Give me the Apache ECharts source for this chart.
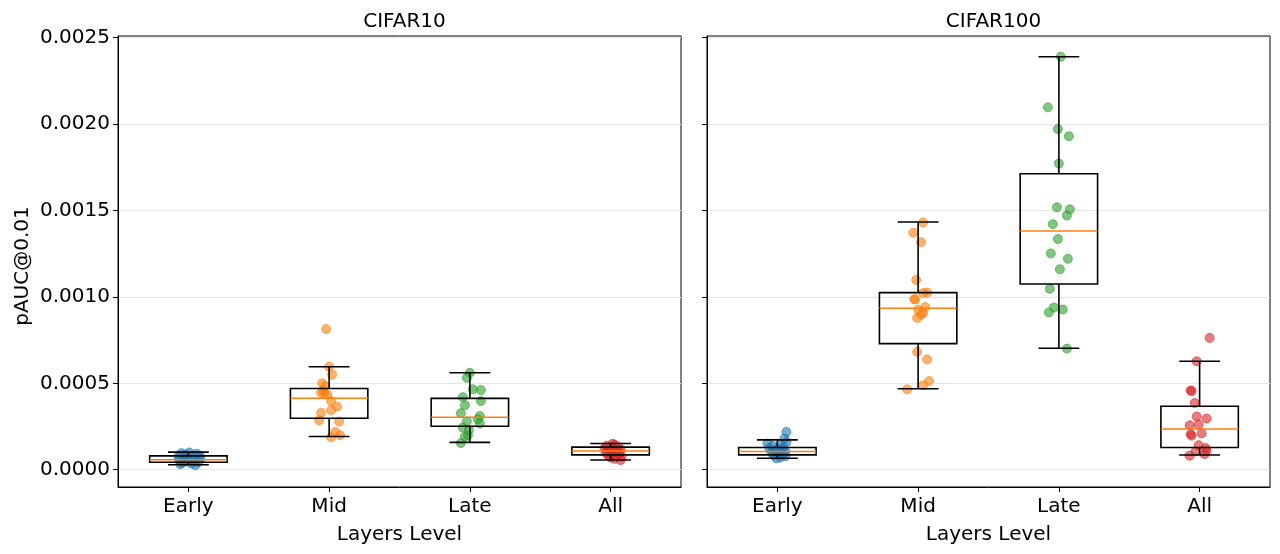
<!DOCTYPE html>
<html>
<head>
<meta charset="utf-8">
<script src="https://cdn.jsdelivr.net/npm/echarts@6/dist/echarts.min.js"></script>
<style>
html,body{margin:0;padding:0;background:#fff;}
#chart{width:1280px;height:554px;}
</style>
</head>
<body>
<div id="chart"></div>
<script>
// ---------- data ----------
const categories = ['Early', 'Mid', 'Late', 'All'];
const panelTitles = ['CIFAR10', 'CIFAR100'];
const yAxisTitle = 'pAUC@0.01';
const xAxisTitle = 'Layers Level';
const yTicks = [0, 0.0005, 0.0010, 0.0015, 0.0020, 0.0025];
const colors = ['#1f77b4', '#ff7f0e', '#2ca02c', '#d62728'];

// box stats per category: [whiskerLow, Q1, median, Q3, whiskerHigh]
const cifar10Stats = [
  [0.000029, 0.000043, 0.000058, 0.000080, 0.000102],
  [0.000192, 0.000298, 0.000413, 0.000470, 0.000596],
  [0.000158, 0.000252, 0.000304, 0.000413, 0.000561],
  [0.000056, 0.000086, 0.000109, 0.000131, 0.000152]
];
const cifar100Stats = [
  [0.000066, 0.000086, 0.000106, 0.000129, 0.000173],
  [0.000469, 0.000730, 0.000935, 0.001025, 0.001434],
  [0.000703, 0.001075, 0.001382, 0.001713, 0.002390],
  [0.000085, 0.000129, 0.000236, 0.000367, 0.000628]
];

// individual runs (values) and horizontal jitter (category units)
const c10EarlyVals = [0.000100, 0.000096, 0.000092, 0.000088, 0.000082, 0.000078, 0.000074, 0.000070, 0.000066, 0.000060, 0.000056, 0.000052, 0.000048, 0.000044, 0.000040, 0.000036, 0.000032, 0.000027];
const c10EarlyJit  = [0.007, -0.050, 0.057, -0.021, 0.078, -0.071, 0.028, -0.035, 0.085, 0.000, -0.064, 0.043, -0.014, 0.071, -0.043, 0.021, -0.057, 0.050];
const c10MidVals = [0.000814, 0.000596, 0.000551, 0.000500, 0.000484, 0.000460, 0.000445, 0.000442, 0.000435, 0.000397, 0.000365, 0.000344, 0.000330, 0.000286, 0.000279, 0.000219, 0.000200, 0.000188];
const c10MidJit  = [-0.021, 0.000, 0.021, -0.050, -0.028, -0.043, -0.057, -0.035, -0.014, 0.014, 0.057, 0.014, -0.057, -0.071, 0.071, 0.043, 0.078, 0.014];
const c10LateVals = [0.000561, 0.000532, 0.000465, 0.000461, 0.000420, 0.000397, 0.000373, 0.000327, 0.000311, 0.000292, 0.000280, 0.000267, 0.000244, 0.000230, 0.000198, 0.000192, 0.000154];
const c10LateJit  = [0.000, -0.021, 0.021, 0.078, -0.050, 0.078, -0.035, -0.064, 0.071, 0.057, -0.021, 0.071, -0.050, -0.007, -0.014, -0.035, -0.064];
const c10AllVals = [0.000150, 0.000145, 0.000138, 0.000132, 0.000125, 0.000120, 0.000115, 0.000110, 0.000105, 0.000100, 0.000095, 0.000090, 0.000085, 0.000080, 0.000075, 0.000070, 0.000063, 0.000056];
const c10AllJit  = [0.014, 0.028, -0.028, 0.057, -0.043, 0.007, 0.071, -0.014, 0.035, -0.035, 0.064, 0.007, -0.021, 0.043, 0.078, 0.000, 0.028, 0.071];

const c100EarlyVals = [0.000219, 0.000181, 0.000160, 0.000152, 0.000145, 0.000138, 0.000130, 0.000125, 0.000120, 0.000115, 0.000110, 0.000105, 0.000100, 0.000095, 0.000090, 0.000085, 0.000078, 0.000070, 0.000066];
const c100EarlyJit  = [0.064, 0.050, 0.064, -0.071, 0.021, -0.035, 0.043, -0.057, 0.000, 0.028, -0.021, 0.057, -0.043, 0.014, 0.043, -0.028, 0.057, 0.021, -0.007];
const c100MidVals = [0.001431, 0.001371, 0.001317, 0.001098, 0.001025, 0.001022, 0.000987, 0.000985, 0.000941, 0.000926, 0.000907, 0.000897, 0.000878, 0.000682, 0.000638, 0.000513, 0.000488, 0.000465];
const c100MidJit  = [0.035, -0.035, 0.021, -0.014, 0.064, 0.035, -0.028, -0.021, 0.050, 0.000, 0.035, 0.021, -0.007, -0.007, 0.064, 0.078, 0.035, -0.078];
const c100LateVals = [0.002390, 0.002097, 0.001972, 0.001930, 0.001772, 0.001519, 0.001507, 0.001471, 0.001421, 0.001335, 0.001252, 0.001221, 0.001160, 0.001047, 0.000939, 0.000927, 0.000910, 0.000701];
const c100LateJit  = [0.014, -0.078, -0.007, 0.071, 0.000, -0.014, 0.078, 0.057, -0.043, -0.007, -0.057, 0.064, 0.007, -0.064, -0.035, 0.028, -0.071, 0.057];
const c100AllVals = [0.000763, 0.000628, 0.000459, 0.000455, 0.000386, 0.000308, 0.000296, 0.000257, 0.000261, 0.000210, 0.000206, 0.000197, 0.000142, 0.000125, 0.000110, 0.000106, 0.000090, 0.000081];
const c100AllJit  = [0.071, -0.021, -0.064, -0.057, -0.035, -0.021, 0.050, -0.071, -0.007, 0.014, -0.064, -0.057, -0.007, 0.043, 0.050, -0.028, 0.035, -0.071];

const panels = [
  { stats: cifar10Stats, vals: [c10EarlyVals, c10MidVals, c10LateVals, c10AllVals], jit: [c10EarlyJit, c10MidJit, c10LateJit, c10AllJit] },
  { stats: cifar100Stats, vals: [c100EarlyVals, c100MidVals, c100LateVals, c100AllVals], jit: [c100EarlyJit, c100MidJit, c100LateJit, c100AllJit] }
];

// ---------- chart ----------
const FONT = 'DejaVu Sans';
const FS = 20;
const chart = echarts.init(document.getElementById('chart'), null, { renderer: 'canvas' });

const grids = [
  { left: 118, right: 599, top: 36, bottom: 67 },
  { left: 707, right: 10, top: 36, bottom: 67 }
];

const xAxes = [0, 1].map(i => ({
  type: 'value', gridIndex: i, min: 0, max: 4,
  name: xAxisTitle, nameLocation: 'middle', nameGap: 38,
  nameTextStyle: { fontFamily: FONT, fontSize: FS, color: '#000' },
  axisLine: { show: true, onZero: false, lineStyle: { color: '#000', width: 1 } },
  axisTick: { show: true, length: 5, lineStyle: { color: '#000' }, customValues: [0.5, 1.5, 2.5, 3.5] },
  axisLabel: { show: true, margin: 10, fontFamily: FONT, fontSize: FS, color: '#000',
    customValues: [0.5, 1.5, 2.5, 3.5],
    formatter: v => categories[Math.round(v - 0.5)] },
  splitLine: { show: false }
}));

const yAxes = [0, 1].map(i => ({
  type: 'value', gridIndex: i, min: -0.0001, max: 0.00251,
  axisLine: { show: true, onZero: false, lineStyle: { color: '#000', width: 1 } },
  axisTick: { show: true, length: 5, lineStyle: { color: '#000' }, customValues: yTicks },
  axisLabel: { show: i === 0, margin: 8, fontFamily: FONT, fontSize: FS, color: '#000',
    customValues: yTicks, formatter: v => v.toFixed(4) },
  splitLine: { show: true, lineStyle: { color: '#e6e6e6', width: 1 } }
}));

const series = [];
panels.forEach((p, pi) => {
  p.vals.forEach((vals, ci) => {
    series.push({
      type: 'scatter', xAxisIndex: pi, yAxisIndex: pi, z: 2,
      symbol: 'circle', symbolSize: 9,
      itemStyle: { color: colors[ci], opacity: 0.6, borderColor: colors[ci], borderWidth: 1 },
      emphasis: { disabled: true },
      data: vals.map((v, k) => [ci + 0.5 + p.jit[ci][k], v])
    });
  });
  series.push({
    type: 'custom', xAxisIndex: pi, yAxisIndex: pi, z: 5,
    data: p.stats.map((s, ci) => [ci + 0.5].concat(s)),
    renderItem: function (params, api) {
      const x = api.value(0);
      const lo = api.value(1), q1 = api.value(2), med = api.value(3), q3 = api.value(4), hi = api.value(5);
      const hw = 0.275, cw = 0.145;
      const c = (a, b) => api.coord([a, b]);
      const black = { stroke: '#000', lineWidth: 1.6, fill: null };
      const tl = c(x - hw, q3), br = c(x + hw, q1);
      const line = (a, b, style) => ({ type: 'line', shape: { x1: a[0], y1: a[1], x2: b[0], y2: b[1] }, style: style });
      return {
        type: 'group',
        children: [
          { type: 'rect', shape: { x: tl[0], y: tl[1], width: br[0] - tl[0], height: br[1] - tl[1] }, style: { stroke: '#000', lineWidth: 1.6, fill: 'none' } },
          line(c(x, q1), c(x, lo), black),
          line(c(x, q3), c(x, hi), black),
          line(c(x - cw, lo), c(x + cw, lo), black),
          line(c(x - cw, hi), c(x + cw, hi), black),
          line(c(x - hw, med), c(x + hw, med), { stroke: '#ff7f0e', lineWidth: 1.5 })
        ]
      };
    }
  });
});

chart.setOption({
  animation: false,
  backgroundColor: '#fff',
  title: [
    { text: panelTitles[0], left: 399.5, top: 7, textAlign: 'center', textStyle: { fontFamily: FONT, fontSize: FS, fontWeight: 'normal', color: '#000' } },
    { text: panelTitles[1], left: 988.5, top: 7, textAlign: 'center', textStyle: { fontFamily: FONT, fontSize: FS, fontWeight: 'normal', color: '#000' } }
  ],
  graphic: [{
    type: 'text', x: 23, y: 266, rotation: Math.PI / 2,
    style: { text: yAxisTitle, fontFamily: FONT, fontSize: FS, fill: '#000', textAlign: 'center', textVerticalAlign: 'middle' }
  }],
  grid: grids.map(g => Object.assign({ show: true, borderColor: '#000', borderWidth: 1, backgroundColor: 'transparent' }, g)),
  xAxis: xAxes,
  yAxis: yAxes,
  series: series
});
</script>
</body>
</html>
